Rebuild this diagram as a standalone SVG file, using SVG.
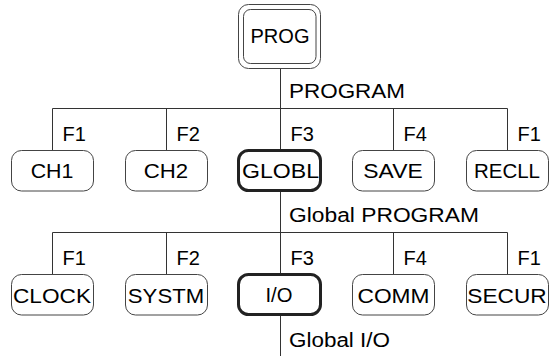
<svg xmlns="http://www.w3.org/2000/svg" width="553" height="356" viewBox="0 0 553 356">
<style>
text{font-family:"Liberation Sans",Arial,sans-serif;font-size:20px;fill:#000}
.c{text-anchor:middle;font-size:21px}
.box{fill:#fff;stroke:#444;stroke-width:1}
.sel{fill:#fff;stroke:#222;stroke-width:3}
.ln{stroke:#333;stroke-width:1;fill:none}
</style>
<rect width="553" height="356" fill="#fff"/>
<g id="connectors">
<path class="ln" d="M280.5 69V150M52.5 108.5H507.5M52.5 108.5V150M166.5 108.5V150M393.5 108.5V150M507.5 108.5V150"/>
<path class="ln" d="M280.5 192V274M52.5 232.5H507.5M52.5 232.5V274M166.5 232.5V274M393.5 232.5V274M507.5 232.5V274"/>
<path class="ln" d="M280.5 316V356"/>
<text x="289" y="98.3" textLength="116" lengthAdjust="spacingAndGlyphs">PROGRAM</text>
<text x="289" y="221.7" textLength="190" lengthAdjust="spacingAndGlyphs">Global PROGRAM</text>
<text x="289" y="346.7" textLength="101" lengthAdjust="spacingAndGlyphs">Global I/O</text>
<text x="62.5" y="141">F1</text>
<text x="176.5" y="141">F2</text>
<text x="290.5" y="141">F3</text>
<text x="403.5" y="141">F4</text>
<text x="517.5" y="141">F1</text>
<text x="62.5" y="265">F1</text>
<text x="176.5" y="265">F2</text>
<text x="290.5" y="265">F3</text>
<text x="403.5" y="265">F4</text>
<text x="517.5" y="265">F1</text>
</g>
<g id="prog">
<rect class="box" x="238.5" y="4.5" width="82" height="64" rx="10"/>
<rect class="box" x="243.5" y="9.5" width="72.5" height="54" rx="7"/>
<text class="c" x="280" y="43.3" textLength="59" lengthAdjust="spacingAndGlyphs">PROG</text>
</g>
<g id="ch1"><rect class="box" x="11.5" y="150.5" width="82" height="40.5" rx="10"/><text class="c" x="52" y="178.3" textLength="42.7" lengthAdjust="spacingAndGlyphs">CH1</text></g>
<g id="ch2"><rect class="box" x="125.5" y="150.5" width="82" height="40.5" rx="10"/><text class="c" x="166" y="178.3" textLength="44.4" lengthAdjust="spacingAndGlyphs">CH2</text></g>
<g id="globl"><rect class="sel" x="238.5" y="150.5" width="82" height="40" rx="10"/><text class="c" x="280.5" y="178.3" textLength="77" lengthAdjust="spacingAndGlyphs">GLOBL</text></g>
<g id="save"><rect class="box" x="352.5" y="150.5" width="82" height="40.5" rx="10"/><text class="c" x="393" y="178.3" textLength="59.3" lengthAdjust="spacingAndGlyphs">SAVE</text></g>
<g id="recll"><rect class="box" x="466.5" y="150.5" width="82" height="40.5" rx="10"/><text class="c" x="507" y="178.3" textLength="66" lengthAdjust="spacingAndGlyphs">RECLL</text></g>
<g id="clock"><rect class="box" x="11.5" y="274.5" width="82" height="40.5" rx="10"/><text class="c" x="52" y="302.7" textLength="78" lengthAdjust="spacingAndGlyphs">CLOCK</text></g>
<g id="systm"><rect class="box" x="125.5" y="274.5" width="82" height="40.5" rx="10"/><text class="c" x="166" y="302.7" textLength="76.3" lengthAdjust="spacingAndGlyphs">SYSTM</text></g>
<g id="io"><rect class="sel" x="238.5" y="274.5" width="82" height="40" rx="10"/><text class="c" x="279" y="302" textLength="27" lengthAdjust="spacingAndGlyphs">I/O</text></g>
<g id="comm"><rect class="box" x="352.5" y="274.5" width="82" height="40.5" rx="10"/><text class="c" x="393.5" y="302.7" textLength="72" lengthAdjust="spacingAndGlyphs">COMM</text></g>
<g id="secur"><rect class="box" x="466.5" y="274.5" width="82" height="40.5" rx="10"/><text class="c" x="507" y="302.7" textLength="79.3" lengthAdjust="spacingAndGlyphs">SECUR</text></g>
</svg>
